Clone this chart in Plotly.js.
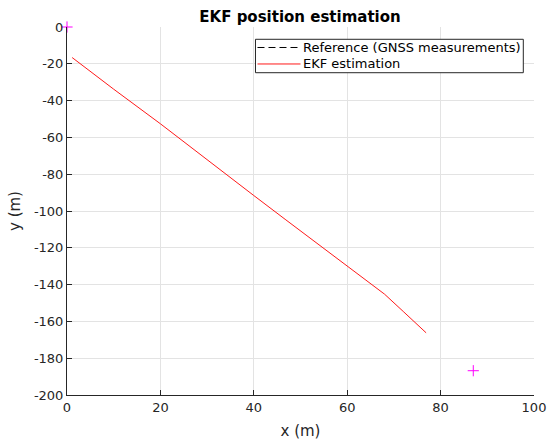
<!DOCTYPE html>
<html>
<head>
<meta charset="utf-8">
<script src="https://cdn.plot.ly/plotly-3.0.1.min.js"></script>
<style>html,body{margin:0;padding:0;background:#fff;}#chart{width:549px;height:443px;}</style>
</head>
<body>
<div id="chart"></div>
<script>
// EKF estimated trajectory
var ekfX = [1.1, 10, 20, 26.3, 30, 40, 46.7, 50, 60, 65, 68, 72, 76.9];
var ekfY = [-16.6, -33.8, -52.6, -65.0, -71.8, -91.6, -104.5, -110.8, -129.9, -139.8, -145.2, -154.6, -166.2];
// Reference (GNSS measurements) - not visible in plot area
var refX = [null];
var refY = [null];
// Start / end markers
var markX = [0, 87];
var markY = [0, -186.8];
var xTicks = [0, 20, 40, 60, 80, 100];
var yTicks = [-200, -180, -160, -140, -120, -100, -80, -60, -40, -20, 0];
var legendNames = ['Reference (GNSS measurements)', 'EKF estimation'];

var font = 'DejaVu Sans, Liberation Sans, sans-serif';
var axCol = '#262626';
var traces = [
  {x: refX, y: refY, type: 'scatter', mode: 'lines', name: legendNames[0], showlegend: false,
   line: {color: '#000000', width: 1, dash: 'dash'}},
  {x: ekfX, y: ekfY, type: 'scatter', mode: 'lines', name: legendNames[1], showlegend: false,
   line: {color: '#ff1a1a', width: 1}},
  {x: markX, y: markY, type: 'scatter', mode: 'markers', showlegend: false, cliponaxis: false,
   marker: {symbol: 'cross-thin-open', size: 8, color: '#ff00ff', line: {color: '#ff00ff', width: 1}}}
];

// Custom legend (MATLAB-style compact box) in paper coordinates
var lgX0 = 0.4036, lgX1 = 0.9771, lgY0 = 0.8758, lgY1 = 0.9666;
var entryY = [0.9443, 0.8995];
var sampleX0 = 0.4079, sampleX1 = 0.5000, textX = 0.5011;
var shapes = [
  {type: 'rect', xref: 'paper', yref: 'paper', x0: lgX0, x1: lgX1, y0: lgY0, y1: lgY1,
   fillcolor: '#ffffff', line: {color: axCol, width: 1}, layer: 'above'},
  {type: 'line', xref: 'paper', yref: 'paper', x0: sampleX0, x1: sampleX1, y0: entryY[0], y1: entryY[0],
   line: {color: '#000000', width: 1, dash: '7px,4px'}, layer: 'above'},
  {type: 'line', xref: 'paper', yref: 'paper', x0: sampleX0, x1: sampleX1, y0: entryY[1], y1: entryY[1],
   line: {color: '#ff1a1a', width: 1}, layer: 'above'}
];
var annotations = legendNames.map(function (t, i) {
  return {xref: 'paper', yref: 'paper', x: textX, y: entryY[i], xanchor: 'left', yanchor: 'middle',
          text: t, showarrow: false, font: {family: font, size: 13, color: '#000000'}};
});

var layout = {
  width: 549, height: 443,
  margin: {l: 67, r: 15, t: 27, b: 48},
  paper_bgcolor: '#ffffff', plot_bgcolor: '#ffffff',
  font: {family: font, size: 13, color: axCol},
  title: {text: '<b>EKF position estimation</b>', font: {family: font, size: 15, color: '#000000'},
          x: 0.5465, xanchor: 'center', y: 0.962, yanchor: 'middle'},
  xaxis: {range: [0, 100], tickvals: xTicks, ticktext: xTicks.map(String),
          showgrid: true, gridcolor: '#e3e3e3', gridwidth: 1, zeroline: false,
          showline: true, linecolor: axCol, linewidth: 1, mirror: false,
          ticks: 'inside', ticklen: 5, tickcolor: axCol, tickfont: {size: 13, color: axCol},
          title: {text: 'x (m)', font: {size: 15, color: axCol}, standoff: 11}},
  yaxis: {range: [-200, 0], tickvals: yTicks, ticktext: yTicks.map(String),
          showgrid: true, gridcolor: '#e3e3e3', gridwidth: 1, zeroline: false,
          showline: true, linecolor: axCol, linewidth: 1, mirror: false,
          ticks: 'inside', ticklen: 5, tickcolor: axCol, tickfont: {size: 13, color: axCol},
          title: {text: 'y (m)', font: {size: 15, color: axCol}, standoff: 9}},
  showlegend: false,
  shapes: shapes,
  annotations: annotations
};
Plotly.newPlot('chart', traces, layout, {staticPlot: true, displayModeBar: false});
</script>
</body>
</html>
